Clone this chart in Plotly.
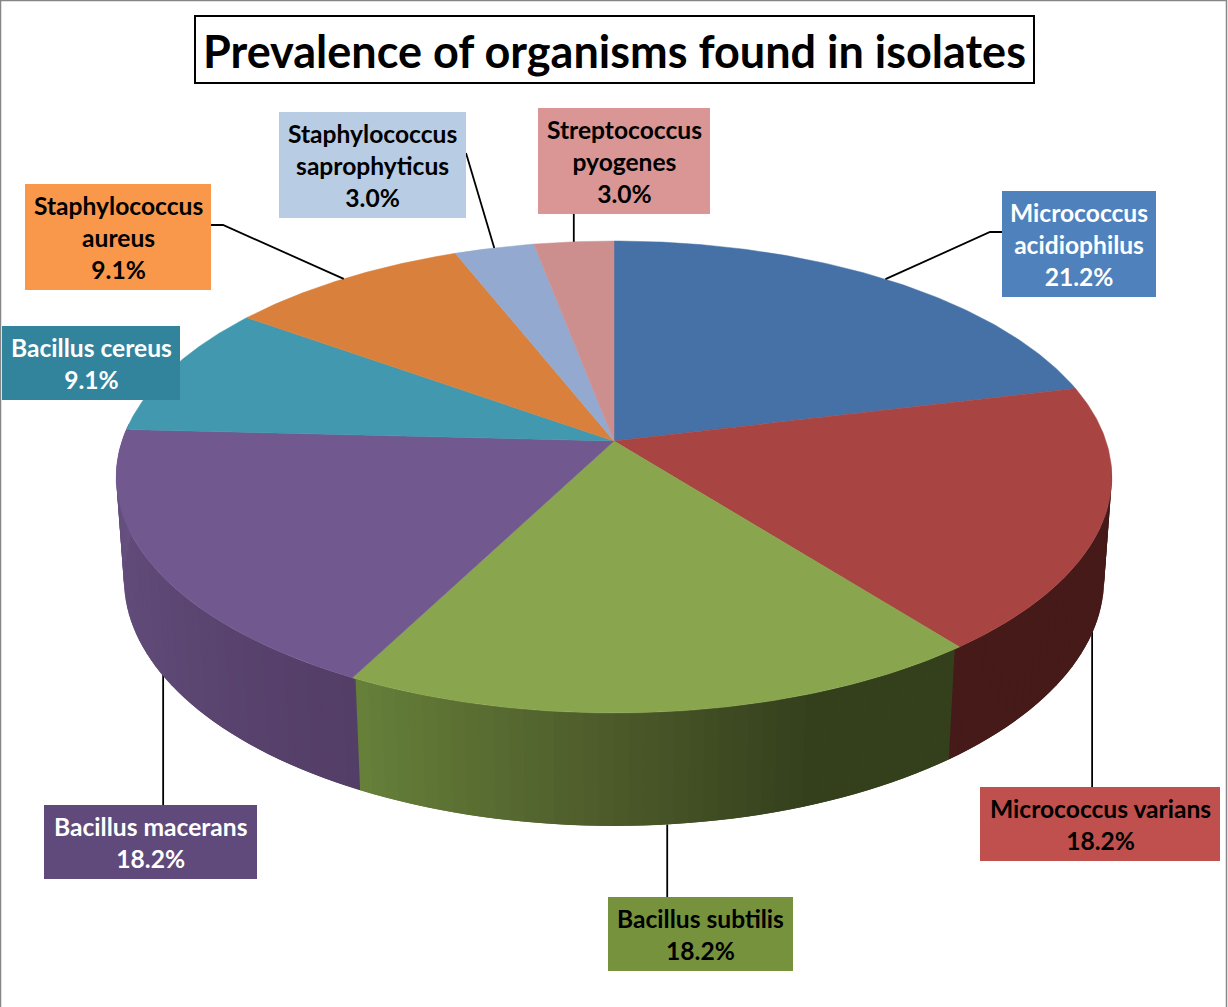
import numpy as np
import plotly.graph_objects as go

# ---- data ----
names = ["Micrococcus<br>acidiophilus", "Micrococcus varians", "Bacillus subtilis", "Bacillus macerans",
         "Bacillus cereus", "Staphylococcus<br>aureus", "Staphylococcus<br>saprophyticus", "Streptococcus<br>pyogenes"]
percent = [21.2, 18.2, 18.2, 18.2, 9.1, 9.1, 3.0, 3.0]
title_text = "Prevalence of organisms found in isolates"

# ---- styles ----
top_colors = ["#4571A6", "#A84442", "#89A54E", "#71588F", "#4198AF", "#D9813C", "#93A9CF", "#CD8E8E"]
box_colors = ["#4F81BD", "#C0504D", "#76923C", "#604A7B", "#31849B", "#F9984A", "#B8CCE4", "#D99694"]
text_colors = ["white", "black", "black", "white", "white", "black", "black", "black"]
# label boxes: x0, x1, y0, y1 in page pixels
boxes = [(1002, 1156, 191, 297), (980, 1220, 787, 861), (608, 793, 897, 971), (44, 257, 805, 879),
         (2, 180, 326, 400), (25, 211, 184, 290), (279, 466, 112, 218), (538, 710, 108, 214)]
FONT = "Lato, Carlito, sans-serif"
LABEL_SIZE = 24.6
TITLE_SIZE = 45

# ---- projection of the tilted disc's top and bottom rims onto the page ----
CX = 614.0
TOP_RIM = dict(cy=441.0, a=492.0, b=230.5, k=0.1525)
BOTTOM_RIM = dict(cy=542.4, a=484.5, b=241.0, k=0.15)
LEADER_INSET = 0.993


def project(theta_deg, bottom=False):
    r = BOTTOM_RIM if bottom else TOP_RIM
    t = np.radians(theta_deg)
    u, v = np.sin(t), np.cos(t)
    w = 1 + r["k"] * v
    return CX + r["a"] * u / w, r["cy"] - r["b"] * v / w


def hex2rgb(h):
    return np.array([int(h[i:i + 2], 16) for i in (1, 3, 5)], float)


def wall_color(theta):
    keys = np.array(WALL_T)
    stops = np.array([hex2rgb(c) for c in WALL_C])
    rgb = [np.interp(theta, keys, stops[:, i]) for i in range(3)]
    return "rgb(%d,%d,%d)" % tuple(int(round(x)) for x in rgb)


edges = np.concatenate([[0], np.cumsum(percent)]) * 3.6
mids = (edges[:-1] + edges[1:]) / 2

WALL_T = [99, edges[2] - 0.01, edges[2] + 0.01, 160, 180, 207.39, 207.41, 240, 272.9]
WALL_C = ["#451A19", "#451A19", "#343F1C", "#343F1C", "#4C5A2A", "#67813A", "#533E67", "#5E4875", "#675181"]

fig = go.Figure()


# leader lines run from the slice's mid-angle on the rim to its label box
def leader(i, bottom, via):
    ax, ay = project(mids[i], bottom=bottom)
    if bottom:
        ax = CX + (ax - CX) * LEADER_INSET
    xs = [ax] + [p[0] if p[0] is not None else ax for p in via]
    ys = [ay] + [p[1] for p in via]
    fig.add_trace(go.Scatter(x=xs, y=ys, mode="lines", line=dict(color="black", width=1.8),
                             hoverinfo="skip", showlegend=False))


# these start under the side wall, which is drawn afterwards
leader(1, True, [(None, 787)])
leader(2, True, [(None, 897)])
leader(3, True, [(None, 805)])

# side wall, built from overlapping bands so that its shading varies along the rim;
# each band reaches under the next one, which hides the seams
step = 1.5
for t0 in np.arange(96, 274, step):
    t1 = t0 + step * 2 if t0 + step * 2 < 275 else t0 + step
    ts = np.linspace(t0, t1, 5)
    xt, yt = project(ts)
    xb, yb = project(ts[::-1], bottom=True)
    c = wall_color(t0 + step / 2)
    fig.add_trace(go.Scatter(x=np.r_[xt, xb, xt[0]], y=np.r_[yt, yb, yt[0]], mode="lines", fill="toself",
                             fillcolor=c, line=dict(width=0), hoverinfo="skip", showlegend=False))

# top face
for i in range(len(percent)):
    ts = np.linspace(edges[i], edges[i + 1], 120)
    xs, ys = project(ts)
    fig.add_trace(go.Scatter(x=np.r_[CX, xs, CX], y=np.r_[TOP_RIM["cy"], ys, TOP_RIM["cy"]], mode="lines",
                             fill="toself", fillcolor=top_colors[i], line=dict(color=top_colors[i], width=0.5),
                             hoverinfo="skip", showlegend=False))

leader(0, False, [(990, 232), (1002, 232)])
leader(5, False, [(223, 225), (211, 225)])
leader(6, False, [(466, 153)])
leader(7, False, [(None, 214)])

# labels
shapes = [dict(type="rect", xref="x", yref="y", x0=0.5, x1=1226.5, y0=0.5, y1=1020,
               line=dict(color="#868686", width=1.5), fillcolor="rgba(0,0,0,0)", layer="below")]
annotations = []
for i, (x0, x1, y0, y1) in enumerate(boxes):
    shapes.append(dict(type="rect", xref="x", yref="y", x0=x0, x1=x1, y0=y0, y1=y1,
                       fillcolor=box_colors[i], line=dict(width=0), layer="above"))
    annotations.append(dict(xref="x", yref="y", x=(x0 + x1) / 2, y=(y0 + y1) / 2, showarrow=False,
                            text="<b>%s<br>%.1f%%</b>" % (names[i], percent[i]), align="center",
                            xanchor="center", yanchor="middle",
                            font=dict(family=FONT, size=LABEL_SIZE, color=text_colors[i])))

# title box
shapes.append(dict(type="rect", xref="x", yref="y", x0=195, x1=1034, y0=16, y1=83,
                   fillcolor="white", line=dict(color="black", width=2), layer="above"))
annotations.append(dict(xref="x", yref="y", x=614.5, y=51, showarrow=False, text="<b>%s</b>" % title_text,
                        xanchor="center", yanchor="middle", font=dict(family=FONT, size=TITLE_SIZE, color="black")))

fig.update_layout(width=1228, height=1007, margin=dict(l=0, r=0, t=0, b=0), autosize=False,
                  paper_bgcolor="white", plot_bgcolor="white", showlegend=False,
                  xaxis=dict(range=[0, 1228], visible=False, fixedrange=True),
                  yaxis=dict(range=[1007, 0], visible=False, fixedrange=True),
                  shapes=shapes, annotations=annotations)

fig.write_html("out.html", config={"displayModeBar": False},
               post_script="document.body.style.margin='0';document.body.style.overflow='hidden';")
